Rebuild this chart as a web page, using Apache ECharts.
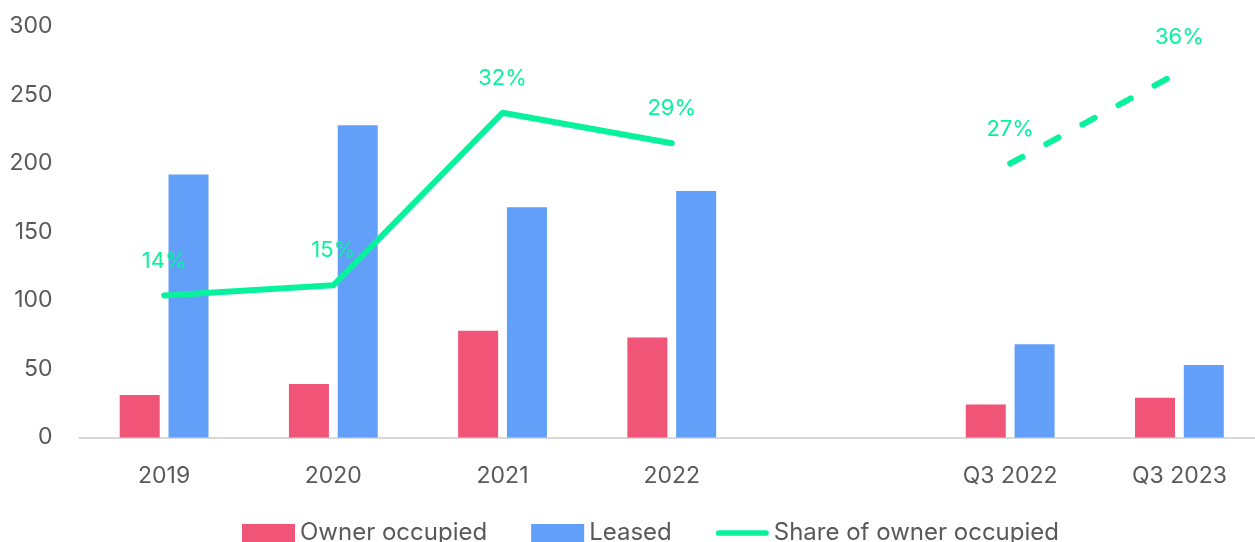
<!DOCTYPE html>
<html>
<head>
<meta charset="utf-8">
<script src="https://cdn.jsdelivr.net/npm/echarts@6/dist/echarts.min.js"></script>
<style>
  html, body { margin: 0; padding: 0; background: #ffffff; overflow: hidden; }
  /* the plot runs a little past the right edge of the window */
  #chart { width: 1266px; height: 542px; }
</style>
</head>
<body>
<div id="chart"></div>
<script>
// Periods on the x axis; the empty slot separates full years from Q3 figures
const categories = ['2019', '2020', '2021', '2022', '', 'Q3 2022', 'Q3 2023'];
// Volumes (left axis)
const ownerOccupied = [31, 39, 78, 73, null, 24, 29];
const leased = [192, 228, 168, 180, null, 68, 53];
// Share of owner occupied: full years drawn solid, quarters drawn dashed
const shareYears = [0.14, 0.15, 0.32, 0.29, null, null, null];
const shareQuarters = [null, null, null, null, null, 0.27, 0.36];
const yTicks = { min: 0, max: 300, interval: 50 };

const RED = '#F05577';
const BLUE = '#629FF9';
const GREEN = '#08F29E';
const TEXT = '#595959';
const FONT = 'Inter';

const pctLabel = {
  show: true,
  position: 'top',
  distance: 23,
  color: GREEN,
  fontFamily: FONT,
  fontSize: 22,
  formatter: p => Math.round(p.value * 100) + '%'
};

// invisible point markers so the value labels can be placed on the line
const hiddenSymbol = {
  symbol: 'circle',
  symbolSize: 1,
  showSymbol: true,
  itemStyle: { color: 'rgba(0,0,0,0)' }
};

const chart = echarts.init(document.getElementById('chart'), null, { renderer: 'canvas' });
chart.setOption({
  animation: false,
  textStyle: { fontFamily: FONT },
  grid: { left: 79.5, top: 26.5, width: 1184.5, height: 411, containLabel: false },
  legend: {
    left: 242,
    top: 521,
    padding: 0,
    itemWidth: 53,
    itemHeight: 18,
    itemGap: 44,
    textStyle: { color: TEXT, fontSize: 24, lineHeight: 24, fontFamily: FONT },
    data: [
      { name: 'Owner occupied', icon: 'rect' },
      { name: 'Leased', icon: 'rect' },
      {
        name: 'Share of owner occupied',
        icon: 'path://M3,0 H53 A3,3 0 0 1 53,6 H3 A3,3 0 0 1 3,0 Z',
        itemStyle: { color: GREEN, borderWidth: 0 }
      }
    ]
  },
  xAxis: {
    type: 'category',
    data: categories,
    axisLine: { lineStyle: { color: '#D9D9D9', width: 2 } },
    axisTick: { show: false },
    axisLabel: { color: TEXT, fontSize: 23, fontFamily: FONT, margin: 27, lineHeight: 24, interval: 0 }
  },
  yAxis: [
    {
      type: 'value',
      min: yTicks.min,
      max: yTicks.max,
      interval: yTicks.interval,
      axisLine: { show: false },
      axisTick: { show: false },
      splitLine: { show: false },
      axisLabel: { color: TEXT, fontSize: 23, fontFamily: FONT, margin: 27 }
    },
    {
      type: 'value',
      min: 0,
      max: 0.405,
      show: false,
      splitLine: { show: false }
    }
  ],
  series: [
    {
      name: 'Owner occupied',
      type: 'bar',
      data: ownerOccupied,
      barWidth: 40,
      barGap: '22%',
      itemStyle: { color: RED }
    },
    {
      name: 'Leased',
      type: 'bar',
      data: leased,
      barWidth: 40,
      itemStyle: { color: BLUE }
    },
    Object.assign({
      name: 'Share of owner occupied',
      type: 'line',
      yAxisIndex: 1,
      data: shareYears,
      connectNulls: false,
      lineStyle: { color: GREEN, width: 6, cap: 'round', join: 'round' },
      label: pctLabel,
      z: 5
    }, hiddenSymbol),
    Object.assign({
      name: 'Share of owner occupied',
      type: 'line',
      yAxisIndex: 1,
      data: shareQuarters,
      lineStyle: { color: GREEN, width: 6, type: [14, 27], cap: 'round' },
      label: pctLabel,
      z: 5
    }, hiddenSymbol)
  ]
});
</script>
</body>
</html>
